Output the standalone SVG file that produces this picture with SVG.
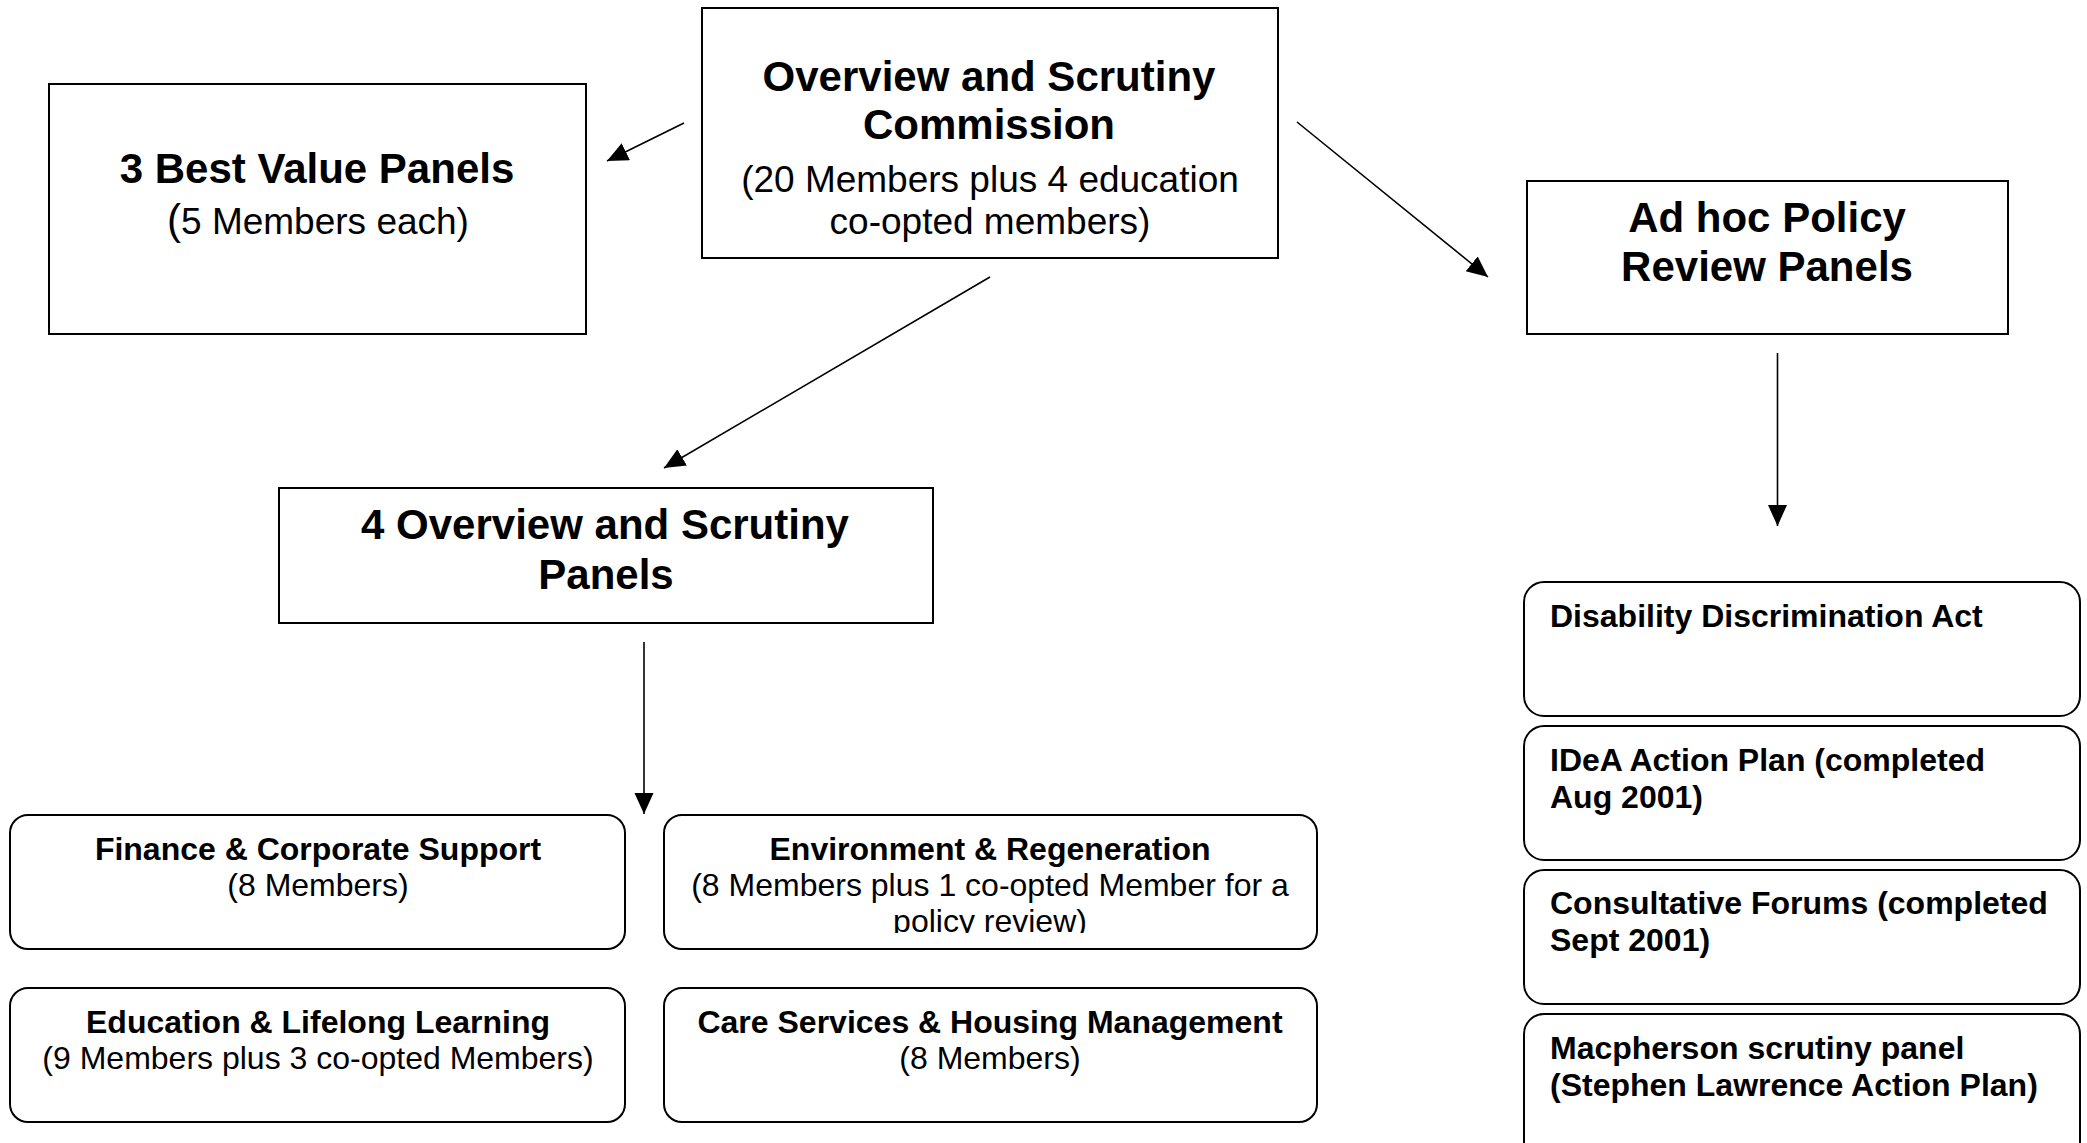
<svg xmlns="http://www.w3.org/2000/svg" width="2087" height="1143" viewBox="0 0 2087 1143">
<style>
  .box { fill: #ffffff; stroke: #000000; stroke-width: 2; }
  .rbox { fill: #ffffff; stroke: #000000; stroke-width: 2; }
  .conn { stroke: #000000; stroke-width: 1.6; fill: none; marker-end: url(#arrow); }
  text { font-family: "Liberation Sans", Arial, sans-serif; fill: #000000; }
  .t42 { font-size: 42px; font-weight: bold; text-anchor: middle; }
  .s37 { font-size: 37px; text-anchor: middle; }
  .b32 { font-size: 32px; font-weight: bold; text-anchor: middle; }
  .r32 { font-size: 32px; text-anchor: middle; }
  .l32 { font-size: 32px; font-weight: bold; text-anchor: start; }
</style>
<defs>
  <marker id="arrow" markerUnits="userSpaceOnUse" markerWidth="22" markerHeight="20" refX="21" refY="9.5" orient="auto">
    <path d="M0,0 L21,9.5 L0,19 Z" fill="#000000"/>
  </marker>
  <clipPath id="envclip">
    <rect x="664" y="815" width="653" height="118"/>
  </clipPath>
</defs>
<rect x="0" y="0" width="2087" height="1143" fill="#ffffff"/>

<g id="connectors">
  <line class="conn" x1="684" y1="123" x2="607" y2="161"/>
  <line class="conn" x1="990" y1="277" x2="664" y2="468"/>
  <line class="conn" x1="1297" y1="122" x2="1488" y2="277"/>
  <line class="conn" x1="1777.5" y1="353" x2="1777.5" y2="526"/>
  <line class="conn" x1="644" y1="642" x2="644" y2="814"/>
</g>

<g id="commission">
  <rect class="box" x="702" y="8" width="576" height="250"/>
  <text class="t42" x="989" y="91">Overview and Scrutiny</text>
  <text class="t42" x="989" y="139">Commission</text>
  <text class="s37" x="990" y="192">(20 Members plus 4 education</text>
  <text class="s37" x="990" y="234">co-opted members)</text>
</g>

<g id="best-value">
  <rect class="box" x="49" y="84" width="537" height="250"/>
  <text class="t42" x="317" y="183">3 Best Value Panels</text>
  <text class="s37" x="318" y="234"><tspan font-size="42">(</tspan>5 Members each)</text>
</g>

<g id="adhoc">
  <rect class="box" x="1527" y="181" width="481" height="153"/>
  <text class="t42" x="1767" y="232">Ad hoc Policy</text>
  <text class="t42" x="1767" y="281">Review Panels</text>
</g>

<g id="os-panels">
  <rect class="box" x="279" y="488" width="654" height="135"/>
  <text class="t42" x="605" y="539">4 Overview and Scrutiny</text>
  <text class="t42" x="606" y="589">Panels</text>
</g>

<g id="finance">
  <rect class="rbox" x="10" y="815" width="615" height="134" rx="18" ry="18"/>
  <text class="b32" x="318" y="860">Finance &amp; Corporate Support</text>
  <text class="r32" x="318" y="896">(8 Members)</text>
</g>

<g id="environment">
  <rect class="rbox" x="664" y="815" width="653" height="134" rx="18" ry="18"/>
  <g clip-path="url(#envclip)">
    <text class="b32" x="990" y="860">Environment &amp; Regeneration</text>
    <text class="r32" x="990" y="896">(8 Members plus 1 co-opted Member for a</text>
    <text class="r32" x="990" y="932">policy review)</text>
  </g>
</g>

<g id="education">
  <rect class="rbox" x="10" y="988" width="615" height="134" rx="18" ry="18"/>
  <text class="b32" x="318" y="1033">Education &amp; Lifelong Learning</text>
  <text class="r32" x="318" y="1069">(9 Members plus 3 co-opted Members)</text>
</g>

<g id="care">
  <rect class="rbox" x="664" y="988" width="653" height="134" rx="18" ry="18"/>
  <text class="b32" x="990" y="1033">Care Services &amp; Housing Management</text>
  <text class="r32" x="990" y="1069">(8 Members)</text>
</g>

<g id="disability">
  <rect class="rbox" x="1524" y="582" width="556" height="134" rx="20" ry="20"/>
  <text class="l32" x="1550" y="627">Disability Discrimination Act</text>
</g>

<g id="idea">
  <rect class="rbox" x="1524" y="726" width="556" height="134" rx="20" ry="20"/>
  <text class="l32" x="1550" y="771">IDeA Action Plan (completed</text>
  <text class="l32" x="1550" y="808">Aug 2001)</text>
</g>

<g id="consultative">
  <rect class="rbox" x="1524" y="870" width="556" height="134" rx="20" ry="20"/>
  <text class="l32" x="1550" y="914">Consultative Forums (completed</text>
  <text class="l32" x="1550" y="951">Sept 2001)</text>
</g>

<g id="macpherson">
  <rect class="rbox" x="1524" y="1014" width="556" height="150" rx="20" ry="20"/>
  <text class="l32" x="1550" y="1059">Macpherson scrutiny panel</text>
  <text class="l32" x="1550" y="1096">(Stephen Lawrence Action Plan)</text>
</g>
</svg>
